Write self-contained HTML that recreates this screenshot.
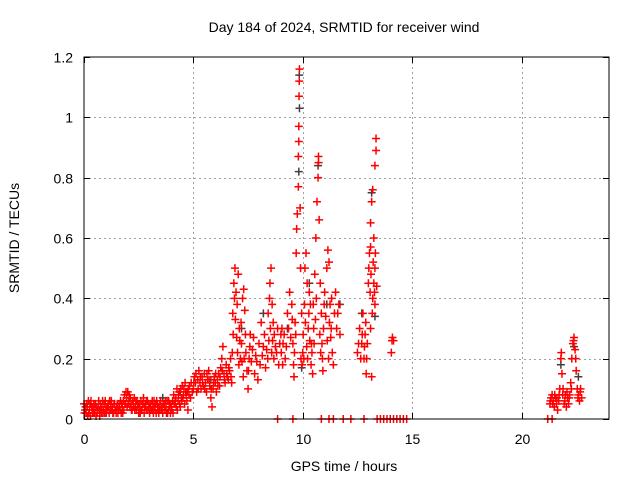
<!DOCTYPE html>
<html><head><meta charset="utf-8"><style>
html,body{margin:0;padding:0;background:#fff}
svg{display:block}
text{font-family:"Liberation Sans",sans-serif;font-size:14px;fill:#000}
</style></head><body>
<svg id="chart" width="640" height="480">
<text x="344" y="32" text-anchor="middle">Day 184 of 2024, SRMTID for receiver wind</text>
<text x="344" y="471" text-anchor="middle">GPS time / hours</text>
<text transform="translate(19,238) rotate(-90)" text-anchor="middle">SRMTID / TECUs</text>
<g id="grid"></g>
<g id="ticks"></g>
<g id="gray"></g>
<g id="red"></g>
<rect x="84" y="57" width="525" height="362" fill="none" stroke="#000" stroke-width="1"/>
</svg>
<script>
const xTicks=[0,5,10,15,20];
const yTicks=[0,0.2,0.4,0.6,0.8,1,1.2];
const yTickLabels=["0","0.2","0.4","0.6","0.8","1","1.2"];
const redPoints=[
[0.0,0.05],[0.05,0.03],[0.1,0.02],[0.15,0.04],[0.2,0.06],[0.25,0.03],[0.3,0.01],[0.35,0.04],[0.4,0.02],[0.45,0.05],[0.5,0.03],[0.55,0.01],[0.6,0.02],[0.65,0.04],[0.7,0.03],[0.75,0.05],[0.8,0.02],[0.85,0.06],[0.9,0.03],[0.95,0.02],[1.0,0.04],[1.05,0.03],[1.1,0.05],[1.15,0.02],[1.2,0.03],[1.25,0.06],[1.3,0.04],[1.35,0.02],[1.4,0.05],[1.45,0.03],[1.5,0.04],[1.55,0.02],[1.6,0.05],[1.65,0.03],[1.7,0.02],[1.75,0.04],[1.8,0.06],[1.85,0.08],[1.9,0.05],[1.95,0.07],[2.0,0.09],[2.05,0.06],[2.1,0.04],[2.15,0.05],[2.2,0.03],[2.25,0.05],[2.3,0.07],[2.35,0.04],[2.4,0.03],[2.45,0.05],[2.5,0.02],[2.55,0.04],[2.6,0.06],[2.65,0.03],[2.7,0.05],[2.75,0.02],[2.8,0.04],[2.85,0.03],[2.9,0.06],[2.95,0.04],[3.0,0.02],[3.05,0.05],[3.1,0.03],[3.15,0.04],[3.2,0.06],[3.25,0.03],[3.3,0.02],[3.35,0.05],[3.4,0.04],[3.45,0.03],[3.5,0.06],[3.55,0.04],[3.6,0.02],[3.65,0.05],[3.7,0.03],[3.75,0.04],[3.8,0.06],[3.85,0.03],[3.9,0.05],[3.95,0.02],[4.0,0.04],[4.05,0.06],[4.1,0.08],[4.15,0.05],[4.2,0.07],[4.25,0.1],[4.3,0.06],[4.35,0.09],[4.4,0.04],[4.45,0.07],[4.5,0.11],[4.55,0.08],[4.6,0.05],[4.65,0.09],[4.7,0.06],[4.75,0.03],[4.8,0.08],
[0.02,0.02],[0.12,0.05],[0.22,0.02],[0.32,0.06],[0.42,0.04],[0.52,0.05],[0.62,0.03],[0.72,0.01],[0.82,0.04],[0.92,0.05],[1.02,0.02],[1.12,0.04],[1.22,0.05],[1.32,0.02],[1.42,0.03],[1.52,0.05],[1.62,0.04],[1.72,0.05],[1.82,0.03],[1.92,0.09],[2.02,0.05],[2.12,0.07],[2.22,0.06],[2.32,0.03],[2.42,0.06],[2.52,0.05],[2.62,0.03],[2.72,0.07],[2.82,0.05],[2.92,0.03],[3.02,0.04],[3.12,0.06],[3.22,0.04],[3.32,0.06],[3.42,0.02],[3.52,0.03],[3.62,0.05],[3.72,0.06],[3.82,0.02],[3.92,0.04],[4.02,0.03],[4.12,0.05],[4.22,0.04],[4.32,0.08],[4.42,0.1],[4.52,0.07],[4.62,0.12],[4.72,0.09],[4.82,0.11],
[0.07,0.04],[0.17,0.01],[0.27,0.05],[0.37,0.03],[0.47,0.02],[0.57,0.04],[0.67,0.06],[0.77,0.03],[0.87,0.02],[0.97,0.06],[1.07,0.04],[1.17,0.06],[1.27,0.03],[1.37,0.05],[1.47,0.02],[1.57,0.03],[1.67,0.06],[1.77,0.02],[1.87,0.05],[1.97,0.04],[2.07,0.08],[2.17,0.03],[2.27,0.04],[2.37,0.06],[2.47,0.04],[2.57,0.02],[2.67,0.05],[2.77,0.04],[2.87,0.06],[2.97,0.05],[3.07,0.03],[3.17,0.02],[3.27,0.05],[3.37,0.03],[3.47,0.05],[3.57,0.03],[3.67,0.04],[3.77,0.02],[3.87,0.06],[3.97,0.05],[4.07,0.02],[4.17,0.06],[4.27,0.03],[4.37,0.05],[4.47,0.06],[4.57,0.1],[4.67,0.08],[4.77,0.1],[4.87,0.07],[4.9,0.12],[4.95,0.09],
[5.0,0.1],[5.05,0.14],[5.1,0.12],[5.15,0.09],[5.2,0.13],[5.25,0.16],[5.3,0.12],[5.35,0.1],[5.4,0.14],[5.45,0.11],[5.5,0.15],[5.55,0.12],[5.6,0.09],[5.65,0.13],[5.7,0.16],[5.75,0.11],[5.8,0.07],[5.85,0.04],[5.9,0.1],[5.95,0.14],[6.0,0.12],[6.05,0.09],[6.1,0.13],[6.15,0.15],[6.2,0.11],[6.25,0.17],[6.3,0.2],[6.35,0.24],[6.4,0.15],[6.45,0.12],[6.5,0.18],[6.55,0.14],[6.6,0.13],[6.65,0.16],[6.7,0.2],
[5.02,0.12],[5.12,0.15],[5.22,0.1],[5.32,0.14],[5.42,0.12],[5.52,0.1],[5.62,0.15],[5.72,0.13],[5.82,0.1],[5.92,0.12],[6.02,0.15],[6.12,0.11],[6.22,0.14],[6.32,0.16],[6.42,0.13],[6.52,0.15],[6.62,0.17],[6.72,0.14],[6.75,0.12],[6.78,0.22],
[6.8,0.35],[6.85,0.45],[6.9,0.5],[6.95,0.42],[7.0,0.38],[7.05,0.48],[7.1,0.3],[7.15,0.2],[7.2,0.25],[7.25,0.4],[7.3,0.43],[7.35,0.36],[7.4,0.22],[7.45,0.16],[7.5,0.1],[7.55,0.2],[7.6,0.28],[7.7,0.23],[7.8,0.15],[7.9,0.19],[8.0,0.25],[8.1,0.32],[8.2,0.24],[8.3,0.17],[8.4,0.2],[8.45,0.26],[8.5,0.45],[8.55,0.5],[8.6,0.38],[8.65,0.32],[8.7,0.28],[8.8,0.22],[8.9,0.18],[9.0,0.28],[9.05,0.3],[9.1,0.25],[9.2,0.2],[9.3,0.35],[9.4,0.42],[9.5,0.38],[9.55,0.25],[9.6,0.14],[9.65,0.32],[9.7,0.55],[9.72,0.63],[9.75,0.68],[9.8,0.77],[9.8,0.87],[9.82,0.92],[9.82,0.97],[9.83,1.07],[9.84,1.12],[9.85,1.16],[9.88,0.7],[9.9,0.5],[9.95,0.35],[10.0,0.22],[10.05,0.2],[10.1,0.5],[10.15,0.55],[10.2,0.45],[10.25,0.3],[10.3,0.42],[10.35,0.38],[10.4,0.25],[10.45,0.15],[10.5,0.3],[10.55,0.48],[10.6,0.6],[10.65,0.72],[10.7,0.8],[10.72,0.85],[10.72,0.87],[10.75,0.66],[10.8,0.45],[10.85,0.35],[10.9,0.2],[10.95,0.3],[11.0,0.42],[11.1,0.5],[11.15,0.56],[11.2,0.52],[11.25,0.38],[11.3,0.3],[11.35,0.22],[11.4,0.18],[11.5,0.42],[11.6,0.35],[11.7,0.28],
[6.82,0.28],[6.88,0.4],[6.92,0.33],[6.98,0.27],[7.02,0.22],[7.08,0.18],[7.12,0.26],[7.18,0.32],[7.22,0.19],[7.28,0.14],[7.32,0.2],[7.38,0.28],[7.52,0.16],[7.58,0.24],[7.65,0.19],[7.75,0.27],[7.85,0.21],[7.95,0.13],[8.05,0.18],[8.15,0.21],[8.25,0.28],[8.35,0.23],[8.42,0.35],[8.48,0.4],[8.52,0.3],[8.58,0.22],[8.62,0.26],[8.68,0.2],[8.75,0.24],[8.85,0.3],[8.95,0.25],[9.02,0.22],[9.08,0.18],[9.15,0.28],[9.25,0.24],[9.35,0.3],[9.45,0.27],[9.52,0.33],[9.58,0.18],[9.62,0.22],[9.68,0.28],[9.92,0.2],[9.97,0.18],[10.02,0.28],[10.08,0.38],[10.12,0.32],[10.18,0.24],[10.22,0.2],[10.28,0.35],[10.32,0.26],[10.38,0.18],[10.42,0.22],[10.48,0.38],[10.52,0.25],[10.58,0.33],[10.62,0.4],[10.78,0.28],[10.82,0.22],[10.88,0.25],[10.92,0.16],[10.98,0.38],[11.05,0.34],[11.12,0.26],[11.18,0.2],[11.22,0.32],[11.28,0.27],[11.32,0.4],[11.45,0.35],[11.55,0.3],[11.65,0.38],
[12.5,0.22],[12.6,0.3],[12.7,0.25],[12.75,0.35],[12.8,0.2],[12.85,0.28],[12.9,0.15],[12.95,0.25],[13.0,0.45],[13.05,0.55],[13.1,0.57],[13.1,0.65],[13.15,0.72],[13.2,0.76],[13.25,0.6],[13.3,0.5],[13.3,0.84],[13.35,0.89],[13.35,0.93],[13.2,0.4],[13.25,0.45],[13.1,0.3],[13.15,0.14],[13.3,0.38],[14.1,0.27],[14.15,0.26],[14.05,0.22],
[12.55,0.25],[12.65,0.2],[12.72,0.28],[12.82,0.24],[12.88,0.32],[12.92,0.2],[13.02,0.5],[13.08,0.42],[13.12,0.48],[13.18,0.35],[13.22,0.52],[13.28,0.42],[13.32,0.55],[13.38,0.44],[14.08,0.26],
[21.3,0.05],[21.35,0.07],[21.4,0.08],[21.45,0.06],[21.5,0.04],[21.55,0.07],[21.6,0.05],[21.65,0.03],[21.7,0.06],[21.75,0.1],[21.8,0.2],[21.82,0.22],[21.85,0.15],[21.9,0.1],[21.95,0.05],[22.0,0.08],[22.05,0.04],[22.1,0.07],[22.15,0.05],[22.2,0.08],[22.25,0.12],[22.3,0.2],[22.35,0.25],[22.4,0.27],[22.45,0.23],[22.5,0.16],[22.55,0.1],[22.6,0.08],[22.65,0.06],[22.7,0.1],[22.75,0.07],
[21.32,0.06],[21.42,0.05],[21.52,0.08],[21.62,0.07],[21.72,0.08],[21.88,0.08],[21.98,0.06],[22.08,0.09],[22.18,0.07],[22.28,0.1],[22.38,0.26],[22.48,0.2],[22.58,0.07],[22.68,0.09],
[8.85,0],[9.55,0],[10.85,0],[11.2,0],[11.4,0],[11.85,0],[12.2,0],[12.8,0],[13.4,0],[13.55,0],[13.7,0],[13.85,0],[14.0,0],[14.15,0],[14.3,0],[14.45,0],[14.6,0],[14.75,0],[21.2,0],[21.4,0]
];
const grayPoints=[
[0.3,0.05],[1.5,0.04],[2.8,0.05],[3.6,0.07],[4.4,0.09],[5.8,0.13],[7.2,0.3],[8.2,0.35],[9.3,0.3],[9.84,1.14],[9.85,1.03],[9.82,0.82],[9.95,0.17],[10.3,0.45],[10.7,0.84],[11.1,0.38],[11.7,0.38],[12.7,0.35],[13.15,0.75],[13.3,0.34],[21.8,0.18],[22.4,0.24],[22.6,0.14]
];
const ns="http://www.w3.org/2000/svg";
const X0=84,X1=609,Y0=419,Y1=57;
function xs(h){return X0+h*(X1-X0)/24;}
function ys(v){return Y0-v*(Y0-Y1)/1.2;}
const grid=document.getElementById('grid'),ticks=document.getElementById('ticks');
function line(p,x1,y1,x2,y2,st,dash){const l=document.createElementNS(ns,'line');l.setAttribute('x1',x1);l.setAttribute('y1',y1);l.setAttribute('x2',x2);l.setAttribute('y2',y2);l.setAttribute('stroke',st);if(dash)l.setAttribute('stroke-dasharray',dash);p.appendChild(l);return l;}
function txt(p,x,y,s,a){const t=document.createElementNS(ns,'text');t.setAttribute('x',x);t.setAttribute('y',y);t.setAttribute('text-anchor',a);t.textContent=s;p.appendChild(t);return t;}
xTicks.forEach(v=>{const x=Math.round(xs(v))+0.5;
 if(v>0){const g=line(grid,x,Y1,x,Y0,'#a0a0a0','2,3');
 
 }
 line(ticks,x,Y0,x,Y0-6,'#000');line(ticks,x,Y1,x,Y1+6,'#000');
 const t=txt(ticks,x,444,String(v),'middle');
 
 });
yTicks.forEach((v,i)=>{const y=Math.round(ys(v))+0.5;
 if(v>0&&v<1.2){const g=line(grid,X0,y,X1,y,'#a0a0a0','2,3');
 
 }
 line(ticks,X0,y,X0+6,y,'#000');line(ticks,X1,y,X1-6,y,'#000');
 const t=txt(ticks,73,y+5,yTickLabels[i],'end');
 
 });
function plus(g,p,c){const x=xs(p[0]),y=ys(p[1]);const path=document.createElementNS(ns,'path');
 path.setAttribute('d',`M${x-4} ${y}H${x+4}M${x} ${y-4}V${y+4}`);path.setAttribute('stroke',c);path.setAttribute('stroke-width','1.5');
 
 
 g.appendChild(path);}
const gg=document.getElementById('gray'),rg=document.getElementById('red');
grayPoints.forEach(p=>plus(gg,p,'#404040'));
redPoints.forEach(p=>plus(rg,p,'#ff0000'));
</script>
</body></html>
